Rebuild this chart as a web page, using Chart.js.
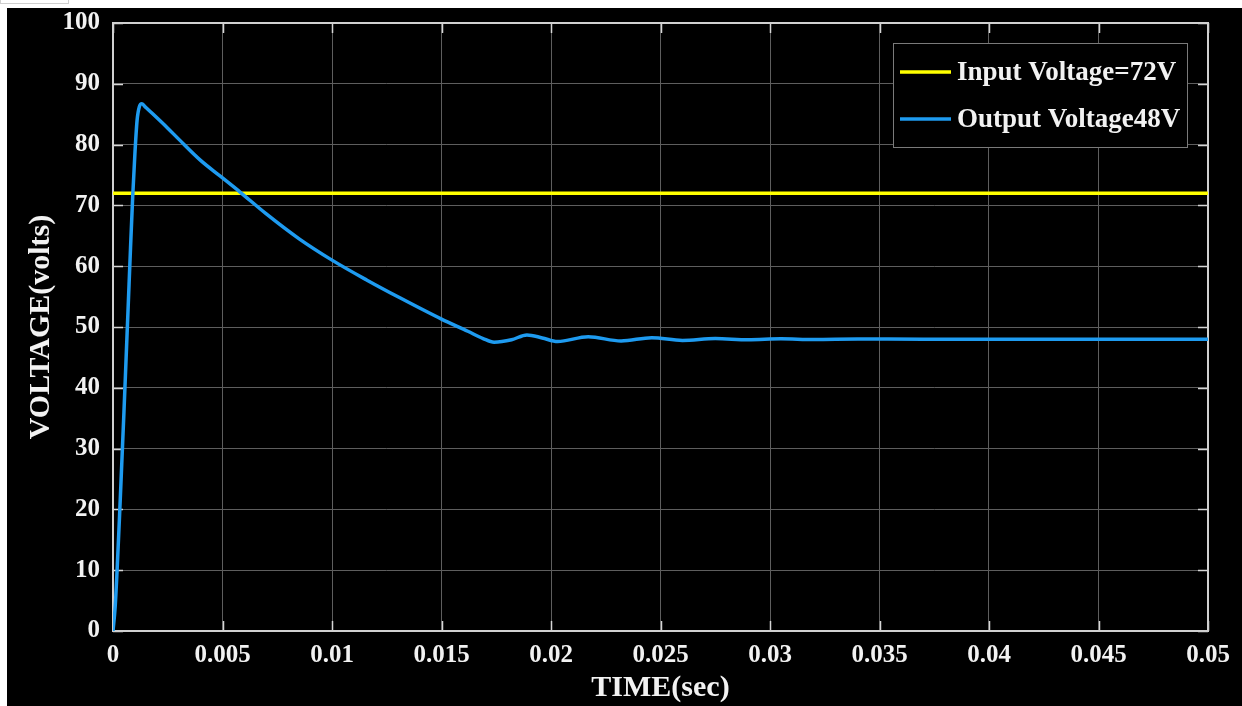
<!DOCTYPE html>
<html>
<head>
<meta charset="utf-8">
<script src="https://cdn.jsdelivr.net/npm/chart.js@4.4.0/dist/chart.umd.min.js"></script>
<style>
  html, body { margin: 0; padding: 0; background: #ffffff; width: 1242px; height: 706px; overflow: hidden; }
  #tab { position: absolute; left: 0; top: 0; width: 67px; height: 3px; border: 1px solid #cfcfcf; border-top: none; background: #fff; }
  #wrap { position: absolute; left: 7px; top: 8px; width: 1235px; height: 698px; background: #000; }
</style>
</head>
<body>
<div id="tab"></div>
<div id="wrap"><canvas id="c"></canvas></div>
<script>
// ---- data ----
const seriesLabels = ['Input Voltage=72V', 'Output Voltage48V'];
const inputTime = [0, 0.05];
const inputVoltage = [72, 72];
const outputTime = [0, 0.0001, 0.0002, 0.0003, 0.0004, 0.0005, 0.0006, 0.0007, 0.0008, 0.0009, 0.001, 0.0011, 0.0012, 0.00132, 0.0015,
  0.0018, 0.0025, 0.003, 0.004, 0.0049, 0.0058, 0.007, 0.0085, 0.01, 0.0116, 0.0131, 0.015, 0.0162, 0.0169, 0.0174,
  0.0182, 0.0189, 0.0196, 0.0203, 0.0217, 0.0232, 0.0246, 0.026, 0.0275, 0.029, 0.0305, 0.032, 0.034, 0.037, 0.04, 0.045, 0.05];
const outputVoltage = [0, 4, 11, 19, 27.5, 36, 45, 54, 63, 71.5, 78.5, 84, 86.2, 86.7, 86.1,
  85.1, 82.7, 80.9, 77.4, 74.8, 72.2, 68.6, 64.5, 61.0, 57.7, 54.8, 51.3, 49.3, 48.1, 47.5,
  47.9, 48.7, 48.2, 47.6, 48.4, 47.7, 48.25, 47.8, 48.1, 47.9, 48.05, 47.95, 48.02, 48, 48, 48, 48];
const xTickLabels = ['0', '0.005', '0.01', '0.015', '0.02', '0.025', '0.03', '0.035', '0.04', '0.045', '0.05'];
const yTickLabels = ['0', '10', '20', '30', '40', '50', '60', '70', '80', '90', '100'];
const xTitle = 'TIME(sec)';
const yTitle = 'VOLTAGE(volts)';
const seriesColors = ['#ffff00', '#1e9bf0'];

const toPoints = (xs, ys) => xs.map((x, i) => ({ x: x, y: ys[i] }));
const FONT = '"Liberation Serif", "Times New Roman", serif';
const TXT = '#f2f2f2';

const frame = {
  id: 'frame',
  beforeDatasetsDraw(chart) {
    const { ctx, chartArea: a, scales } = chart;
    ctx.save();
    ctx.strokeStyle = '#d6d6d6';
    ctx.lineWidth = 1.5;
    const L = 10;
    scales.x.ticks.forEach((t) => {
      const px = Math.round(scales.x.getPixelForValue(t.value)) + 0.5;
      ctx.beginPath(); ctx.moveTo(px, a.bottom); ctx.lineTo(px, a.bottom - L); ctx.stroke();
      ctx.beginPath(); ctx.moveTo(px, a.top); ctx.lineTo(px, a.top + L); ctx.stroke();
    });
    scales.y.ticks.forEach((t) => {
      const py = Math.round(scales.y.getPixelForValue(t.value)) + 0.5;
      ctx.beginPath(); ctx.moveTo(a.left, py); ctx.lineTo(a.left + L, py); ctx.stroke();
      ctx.beginPath(); ctx.moveTo(a.right, py); ctx.lineTo(a.right - L, py); ctx.stroke();
    });
    ctx.lineWidth = 2;
    ctx.strokeStyle = '#d0d0d0';
    ctx.strokeRect(a.left, a.top, a.right - a.left, a.bottom - a.top);
    ctx.restore();
  },
  afterDatasetsDraw(chart) {
    const { ctx, chartArea: a } = chart;
    const x0 = a.right - 21, w = 294, y0 = a.top + 20, h = 104;
    ctx.save();
    ctx.fillStyle = '#000';
    ctx.fillRect(x0 - w, y0, w, h);
    ctx.strokeStyle = '#7a7a7a';
    ctx.lineWidth = 1;
    ctx.strokeRect(x0 - w + 0.5, y0 + 0.5, w, h);
    ctx.font = 'bold 27px ' + FONT;
    ctx.textBaseline = 'middle';
    ctx.textAlign = 'left';
    chart.data.datasets.forEach((ds, i) => {
      const yy = y0 + 29 + i * 47;
      ctx.strokeStyle = ds.borderColor;
      ctx.lineWidth = 3.5;
      ctx.beginPath(); ctx.moveTo(x0 - w + 7, yy); ctx.lineTo(x0 - w + 58, yy); ctx.stroke();
      ctx.fillStyle = TXT;
      ctx.fillText(ds.label, x0 - w + 64, yy + 1);
    });
    ctx.restore();
  }
};

new Chart(document.getElementById('c'), {
  type: 'line',
  data: {
    datasets: [
      { label: seriesLabels[0], data: toPoints(inputTime, inputVoltage), borderColor: seriesColors[0], borderWidth: 3.5, pointRadius: 0, order: 2 },
      { label: seriesLabels[1], data: toPoints(outputTime, outputVoltage), borderColor: seriesColors[1], borderWidth: 3.5, pointRadius: 0, cubicInterpolationMode: 'monotone', order: 1 }
    ]
  },
  options: {
    responsive: true,
    maintainAspectRatio: false,
    animation: false,
    layout: { padding: { left: 0, top: 15, right: 34, bottom: 0 } },
    plugins: { legend: { display: false }, tooltip: { enabled: false } },
    scales: {
      x: {
        type: 'linear', min: 0, max: 0.05,
        afterFit: (s) => { s.height = 75; s.paddingLeft = 0; s.paddingRight = 0; },
        ticks: { stepSize: 0.005, padding: 10, color: TXT, font: { family: FONT, size: 25, weight: 'bold' }, maxRotation: 0, autoSkip: false,
          callback: (v, i) => xTickLabels[i] },
        grid: { color: '#5e5e5e', lineWidth: 1, drawTicks: false },
        border: { display: false },
        title: { display: true, text: xTitle, color: TXT, font: { family: FONT, size: 30, weight: 'bold' }, padding: { top: 0, bottom: 0 } }
      },
      y: {
        type: 'linear', min: 0, max: 100,
        afterFit: (s) => { s.width = 106; s.paddingTop = 0; s.paddingBottom = 0; },
        ticks: { stepSize: 10, padding: 13, color: TXT, font: { family: FONT, size: 25, weight: 'bold' },
          callback: (v, i) => yTickLabels[i] },
        grid: { color: '#5e5e5e', lineWidth: 1, drawTicks: false },
        border: { display: false },
        title: { display: true, text: yTitle, color: TXT, font: { family: FONT, size: 30, weight: 'bold' }, padding: { top: 16, bottom: 0 } }
      }
    }
  },
  plugins: [frame]
});
</script>
</body>
</html>
